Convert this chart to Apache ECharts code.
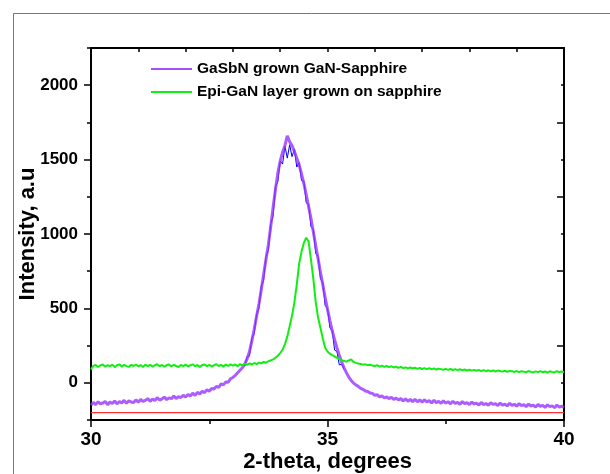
<!DOCTYPE html>
<html>
<head>
<meta charset="utf-8">
<script src="https://cdn.jsdelivr.net/npm/echarts@6/dist/echarts.min.js"></script>
<style>
body { margin: 0; background: #fff; }
#chart { width: 610px; height: 474px; }
</style>
</head>
<body>
<div id="chart"></div>
<script>
// x grid of the scans: start and step in degrees
const scanStart = 30;
const scanStep = 0.05;

// GaSbN grown GaN-Sapphire (purple), 30.00 .. 40.00
const gasbnValues = [
  -150,-132,-146,-128,-141,-136,-125,-147,-130,-139,-122,-141,-127,-135,-118,-138,-121,-129,-133,-115,
  -130,-112,-125,-118,-106,-124,-110,-119,-100,-116,-108,-96,-113,-101,-107,-89,-106,-93,-99,-84,
  -96,-78,-88,-70,-84,-64,-75,-57,-66,-47,-56,-38,-42,-24,-30,-8,-14,6,4,27,
  36,50,67,84,101,125,160,210,280,360,445,530,625,730,830,930,1050,1180,1300,1410,
  1490,1550,1595,1660,1620,1595,1555,1510,1465,1405,1340,1265,1185,1105,1015,925,835,745,660,575,
  495,420,350,290,235,185,140,100,68,38,16,-2,-14,-24,-37,-44,-55,-58,-69,-71,
  -84,-80,-94,-88,-101,-95,-106,-97,-112,-103,-115,-106,-121,-108,-124,-112,-126,-111,-128,-115,
  -130,-114,-128,-120,-135,-117,-133,-124,-138,-121,-136,-127,-141,-124,-138,-131,-144,-126,-140,-133,
  -146,-130,-142,-136,-149,-132,-147,-139,-151,-134,-145,-141,-153,-136,-150,-143,-155,-138,-152,-144,
  -157,-140,-153,-147,-160,-143,-156,-150,-163,-146,-158,-152,-165,-148,-160,-155,-167,-150,-163,-157,
  -165
];

// Epi-GaN layer grown on sapphire (green), 30.00 .. 40.00
const epiValues = [
  90,114,120,106,117,123,108,119,111,122,105,118,124,109,120,112,107,121,113,123,
  110,119,106,122,112,121,109,118,125,111,120,108,119,123,110,121,113,106,120,112,
  122,109,118,124,111,120,107,119,123,112,121,110,118,125,113,120,109,122,114,124,
  115,123,112,126,117,128,120,130,123,133,126,136,130,140,135,145,150,158,168,182,
  200,222,260,310,380,450,540,660,800,880,940,975,950,830,700,545,440,370,300,235,
  210,196,186,178,168,160,152,147,142,150,157,140,134,130,127,122,124,119,121,116,
  113,118,109,115,107,113,105,111,103,109,100,107,98,104,97,103,96,101,94,100,
  93,99,92,98,90,97,89,95,92,88,94,87,93,86,92,85,91,84,89,83,
  88,82,87,81,86,79,85,78,84,77,83,76,82,79,75,81,74,80,77,73,
  79,72,78,75,71,79,73,70,77,72,78,71,76,69,77,73,70,78,72,76,
  71
];

// raw peak scan under the purple curve (blue), 33.25 .. 35.35
const rawStart = 33.25;
const rawValues = [
  110,175,180,300,330,460,500,650,690,850,890,1070,1120,1320,1350,1490,1470,1590,1510,1600,
  1520,1570,1450,1480,1360,1355,1210,1200,1050,1030,870,850,700,675,520,500,370,350,220,210,
  120,125,90
];

// red baseline
const baselineX = [30, 40];
const baselineY = [-200, -200];

const yLabelTicks = [0, 500, 1000, 1500, 2000];
const yRightLongTicks = [-250, 250, 750, 1250, 1750];

function pairs(start, values) {
  return values.map((v, i) => [+(start + i * scanStep).toFixed(2), v]);
}

const chart = echarts.init(document.getElementById('chart'));
const font = 'Arial, "Liberation Sans", sans-serif';

chart.setOption({
  animation: false,
  backgroundColor: '#fff',
  graphic: [
    { type: 'line', shape: { x1: 13.5, y1: 13.5, x2: 610, y2: 13.5 }, style: { stroke: '#777', lineWidth: 1 } },
    { type: 'line', shape: { x1: 13.5, y1: 13.5, x2: 13.5, y2: 474 }, style: { stroke: '#777', lineWidth: 1 } }
  ],
  legend: {
    left: 146,
    top: 56,
    orient: 'vertical',
    icon: 'rect',
    itemWidth: 41,
    itemHeight: 2,
    itemGap: 7,
    data: ['GaSbN grown GaN-Sapphire', 'Epi-GaN layer grown on sapphire'],
    textStyle: { fontFamily: font, fontWeight: 'bold', fontSize: 15.5, color: '#000', lineHeight: 16 }
  },
  grid: { left: 91, right: 46, top: 48, bottom: 54, outerBoundsMode: 'none' },
  xAxis: [
    {
      type: 'value', position: 'bottom', min: 30, max: 40, interval: 5,
      name: '2-theta, degrees', nameLocation: 'middle', nameGap: 31, nameMoveOverlap: false,
      nameTextStyle: { fontFamily: font, fontWeight: 'bold', fontSize: 22, color: '#000' },
      axisLine: { onZero: false, lineStyle: { color: '#000', width: 2 } },
      axisTick: { length: 7, lineStyle: { color: '#000', width: 1.5 } },
      minorTick: { show: true, splitNumber: 2, length: 4, lineStyle: { color: '#000', width: 1.5 } },
      axisLabel: { fontFamily: font, fontWeight: 'bold', fontSize: 19, color: '#000', margin: 10 },
      splitLine: { show: false }
    },
    {
      type: 'value', position: 'top', min: 30, max: 40, interval: 1,
      axisLine: { onZero: false, lineStyle: { color: '#000', width: 2 } },
      axisTick: { inside: true, length: 4, lineStyle: { color: '#000', width: 1.5 } },
      axisLabel: { show: false },
      splitLine: { show: false }
    }
  ],
  yAxis: [
    {
      type: 'value', position: 'left', min: -250, max: 2250, interval: 250,
      name: 'Intensity, a.u', nameLocation: 'middle', nameGap: 52, nameMoveOverlap: false,
      nameTextStyle: { fontFamily: font, fontWeight: 'bold', fontSize: 22, color: '#000' },
      axisLine: { show: true, onZero: false, lineStyle: { color: '#000', width: 2 } },
      axisTick: { show: true, length: 4, lineStyle: { color: '#000', width: 1.5 } },
      axisLabel: {
        fontFamily: font, fontWeight: 'bold', fontSize: 17, color: '#000', margin: 13,
        formatter: v => (v % 500 === 0 ? String(v) : '')
      },
      splitLine: { show: false }
    },
    {
      type: 'value', position: 'right', min: -250, max: 2250, interval: 250,
      axisLine: { show: true, onZero: false, lineStyle: { color: '#000', width: 2 } },
      axisTick: { show: true, inside: true, length: 3, lineStyle: { color: '#000', width: 1.5 } },
      axisLabel: { show: false },
      splitLine: { show: false }
    },
    {
      type: 'value', position: 'left', min: -250, max: 2250,
      axisLine: { show: false, onZero: false },
      axisTick: { show: true, length: 7, customValues: yLabelTicks, lineStyle: { color: '#000', width: 1.5 } },
      axisLabel: { show: false, customValues: yLabelTicks },
      splitLine: { show: false }
    },
    {
      type: 'value', position: 'right', min: -250, max: 2250,
      axisLine: { show: false, onZero: false },
      axisTick: { show: true, inside: true, length: 7, customValues: yRightLongTicks, lineStyle: { color: '#000', width: 1.5 } },
      axisLabel: { show: false, customValues: yRightLongTicks },
      splitLine: { show: false }
    }
  ],
  series: [
    {
      name: 'raw', type: 'line', showSymbol: false, z: 2,
      data: pairs(rawStart, rawValues),
      lineStyle: { color: '#0000ff', width: 1 }, itemStyle: { color: '#0000ff' }
    },
    {
      name: 'GaSbN grown GaN-Sapphire', type: 'line', showSymbol: false, z: 3,
      data: pairs(scanStart, gasbnValues),
      lineStyle: { color: '#9933ff', width: 3, opacity: 0.8 }, itemStyle: { color: '#a64dff' }
    },
    {
      name: 'Epi-GaN layer grown on sapphire', type: 'line', showSymbol: false, z: 4,
      data: pairs(scanStart, epiValues),
      lineStyle: { color: '#11ee11', width: 2 }, itemStyle: { color: '#11ee11' }
    },
    {
      name: 'baseline', type: 'line', showSymbol: false, z: 1,
      data: baselineX.map((x, i) => [x, baselineY[i]]),
      lineStyle: { color: '#ff3030', width: 1.2 }, itemStyle: { color: '#ff3030' }
    }
  ]
});
</script>
</body>
</html>
